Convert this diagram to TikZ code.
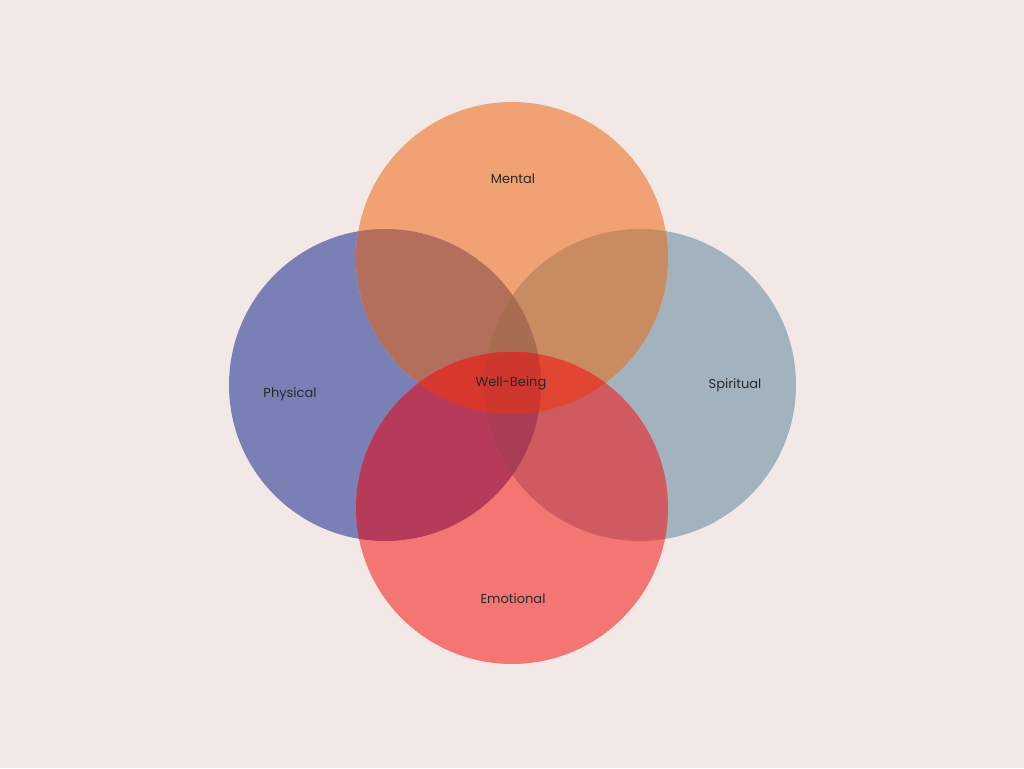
\documentclass[tikz,border=0pt]{standalone}
\usepackage{fontspec}
\setmainfont{Poppins}
\definecolor{xbg}{RGB}{242,233,231}
\definecolor{xm}{RGB}{240,162,116}
\definecolor{xp}{RGB}{122,128,181}
\definecolor{xs}{RGB}{162,179,190}
\definecolor{xe}{RGB}{244,118,114}
\definecolor{xpm}{RGB}{180,110,92}
\definecolor{xms}{RGB}{200,139,98}
\definecolor{xpe}{RGB}{182,58,90}
\definecolor{xse}{RGB}{207,90,96}
\definecolor{xpms}{RGB}{168,108,80}
\definecolor{xpes}{RGB}{170,60,85}
\definecolor{xme}{RGB}{225,70,50}
\definecolor{xmep}{RGB}{215,55,45}
\definecolor{xall}{RGB}{205,55,45}
\definecolor{xtxt}{RGB}{40,40,40}
\begin{document}
\begin{tikzpicture}[x=1pt,y=1pt,lbl/.style={text=xtxt,font=\fontsize{13}{15}\selectfont}]
\fill[fill=xbg] (0,0) rectangle (1024,768);
\useasboundingbox (0,0) rectangle (1024,768);
\def\cM{(512,510) circle[radius=156]}
\def\cP{(385,383) circle[radius=156]}
\def\cS{(640,383) circle[radius=156]}
\def\cE{(512,260) circle[radius=156]}
\fill[fill=xp] \cP; \fill[fill=xs] \cS; \fill[fill=xm] \cM; \fill[fill=xe] \cE;
\begin{scope}\clip \cP; \fill[fill=xpm] \cM; \fill[fill=xpe] \cE; \end{scope}
\begin{scope}\clip \cS; \fill[fill=xms] \cM; \fill[fill=xse] \cE; \end{scope}
\begin{scope}\clip \cP; \clip \cS; \fill[fill=xpms] \cM; \fill[fill=xpes] \cE; \end{scope}
\begin{scope}\clip \cM; \fill[fill=xme] \cE; \clip \cE; \fill[fill=xmep] \cP; \clip \cP; \fill[fill=xall] \cS; \end{scope}
\node[lbl] (m) at (513,589) {Mental};
\node[lbl] (p) at (290,374) {Physical};
\node[lbl] (s) at (735,383) {Spiritual};
\node[lbl] (e) at (513,169) {Emotional};
\node[lbl] (w) at (511,385) {Well-Being};
\end{tikzpicture}
\end{document}
